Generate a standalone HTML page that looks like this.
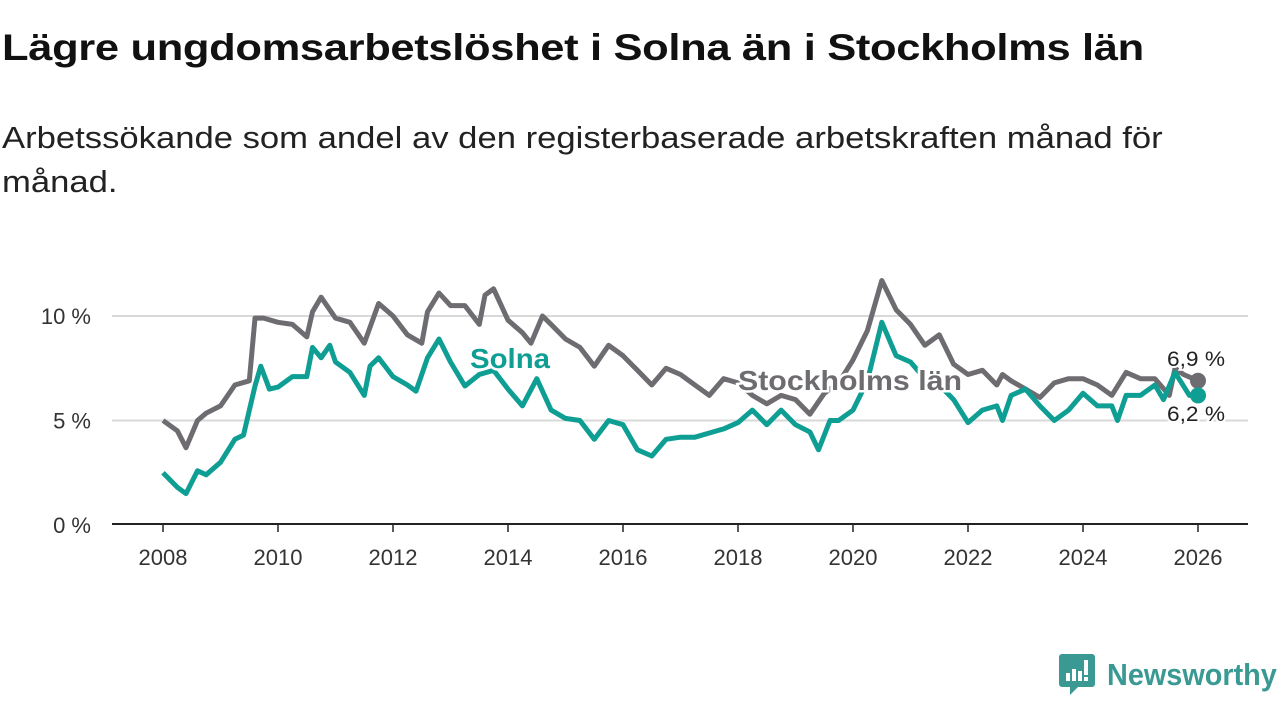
<!DOCTYPE html>
<html><head><meta charset="utf-8">
<style>
body{margin:0;width:1280px;height:720px;background:#fff;overflow:hidden;font-family:"Liberation Sans",sans-serif;}
#title{position:absolute;left:2px;top:27px;font-size:37px;font-weight:bold;color:#111;margin:0;letter-spacing:-0.3px;white-space:nowrap;transform:scaleX(1.176);transform-origin:0 0}
#sub{position:absolute;left:2px;top:116px;font-size:31px;color:#222;line-height:44px;white-space:nowrap;transform:scaleX(1.117);transform-origin:0 0}
svg{position:absolute;left:0;top:0}
</style></head><body>
<h1 id="title">Lägre ungdomsarbetslöshet i Solna än i Stockholms län</h1>
<div id="sub">Arbetssökande som andel av den registerbaserade arbetskraften månad för<br>månad.</div>
<svg id="chart" width="1280" height="720"></svg>
<script>
const yTicks=[0,5,10];
const yTickLabels=["0 %","5 %","10 %"];
const xTicks=[2008,2010,2012,2014,2016,2018,2020,2022,2024,2026];
const stoDates=[2008,2008.25,2008.4,2008.6,2008.75,2009,2009.25,2009.5,2009.6,2009.75,2010,2010.25,2010.5,2010.6,2010.75,2011,2011.25,2011.5,2011.75,2012,2012.25,2012.5,2012.6,2012.8,2013,2013.25,2013.5,2013.6,2013.75,2014,2014.25,2014.4,2014.6,2014.75,2015,2015.25,2015.5,2015.75,2016,2016.25,2016.5,2016.75,2017,2017.25,2017.5,2017.75,2018,2018.25,2018.5,2018.75,2019,2019.25,2019.5,2019.75,2020,2020.25,2020.5,2020.75,2021,2021.25,2021.5,2021.75,2022,2022.25,2022.5,2022.6,2022.75,2023,2023.25,2023.5,2023.75,2024,2024.25,2024.5,2024.75,2025,2025.25,2025.5,2025.6,2025.75,2026];
const stoValues=[5.0,4.5,3.7,5.0,5.35,5.7,6.7,6.9,9.9,9.9,9.7,9.6,9.0,10.2,10.9,9.9,9.7,8.7,10.6,10.0,9.1,8.7,10.2,11.1,10.5,10.5,9.6,11.0,11.3,9.8,9.2,8.7,10.0,9.6,8.9,8.5,7.6,8.6,8.1,7.4,6.7,7.5,7.2,6.7,6.2,7.0,6.8,6.2,5.8,6.2,6.0,5.3,6.3,6.8,7.9,9.3,11.7,10.3,9.6,8.6,9.1,7.7,7.2,7.4,6.7,7.2,6.9,6.5,6.1,6.8,7.0,7.0,6.7,6.2,7.3,7.0,7.0,6.2,7.5,7.2,6.9];
const solDates=[2008,2008.25,2008.4,2008.6,2008.75,2009,2009.25,2009.4,2009.6,2009.7,2009.85,2010,2010.25,2010.5,2010.6,2010.75,2010.9,2011,2011.25,2011.5,2011.6,2011.75,2012,2012.25,2012.4,2012.6,2012.8,2013,2013.25,2013.5,2013.75,2014,2014.25,2014.5,2014.75,2015,2015.25,2015.5,2015.75,2016,2016.25,2016.5,2016.75,2017,2017.25,2017.5,2017.75,2018,2018.25,2018.5,2018.75,2019,2019.25,2019.4,2019.6,2019.75,2020,2020.25,2020.5,2020.75,2021,2021.25,2021.5,2021.75,2022,2022.25,2022.5,2022.6,2022.75,2023,2023.25,2023.5,2023.75,2024,2024.25,2024.5,2024.6,2024.75,2025,2025.25,2025.4,2025.6,2025.85,2026];
const solValues=[2.5,1.8,1.5,2.6,2.4,3.0,4.1,4.3,6.65,7.6,6.5,6.6,7.1,7.1,8.5,8.0,8.6,7.8,7.3,6.2,7.6,8.0,7.1,6.7,6.4,8.0,8.9,7.8,6.65,7.2,7.4,6.5,5.7,7.0,5.5,5.1,5.0,4.1,5.0,4.8,3.6,3.3,4.1,4.2,4.2,4.4,4.6,4.9,5.5,4.8,5.5,4.8,4.45,3.6,5.0,5.0,5.5,6.9,9.7,8.1,7.8,7.0,6.7,6.0,4.9,5.5,5.7,5.0,6.2,6.5,5.7,5.0,5.5,6.3,5.7,5.7,5.0,6.2,6.2,6.7,6.0,7.3,6.2,6.2];
const NS="http://www.w3.org/2000/svg";
const svg=document.getElementById('chart');
const X=v=>163+(v-2008)*(1198-163)/18;
const Y=v=>525-v*20.9;
function mk(t,a,p){const e=document.createElementNS(NS,t);for(const k in a)e.setAttribute(k,a[k]);(p||svg).appendChild(e);return e;}
yTicks.forEach((t,i)=>{
  if(t>0){const g=mk('line',{x1:112,x2:1248,y1:Y(t),y2:Y(t),stroke:'#d9d9d9','stroke-width':2});
  
  }
  const l=mk('text',{x:91,y:Y(t)+8,'text-anchor':'end','font-size':22,fill:'#333'});l.textContent=yTickLabels[i];
  
  
});
const ax=mk('line',{x1:112,x2:1248,y1:524,y2:524,stroke:'#222','stroke-width':2});


xTicks.forEach(t=>{
  mk('line',{x1:X(t),x2:X(t),y1:524,y2:532,stroke:'#222','stroke-width':1.5});
  const l=mk('text',{x:X(t),y:565,'text-anchor':'middle','font-size':22,fill:'#333'});l.textContent=t;
  
  
});
function line(d,v,c,name){
  const p=mk('path',{d:d.map((x,i)=>(i?'L':'M')+X(x).toFixed(1)+','+Y(v[i]).toFixed(1)).join(''),fill:'none',stroke:c,'stroke-width':5,'stroke-linejoin':'round'});
  
  
}
line(stoDates,stoValues,'#6e6c70','stockholm-line');
line(solDates,solValues,'#0f9e93','solna-line');
function lab(x,y,t,c,w,name){
  const e=mk('text',{x:x,y:y,'font-size':28,'font-weight':'bold',fill:c,stroke:'#fff','stroke-width':5,'paint-order':'stroke',textLength:w,lengthAdjust:'spacingAndGlyphs'});e.textContent=t;
  
  
}
lab(470,368,'Solna','#0f9e93',80,'solna-label');
lab(738,390,'Stockholms län','#6e6c70',224,'stockholm-label');
const d1=mk('circle',{cx:X(2026),cy:Y(stoValues[stoValues.length-1]),r:8,fill:'#6e6c70'});


const d2=mk('circle',{cx:X(2026),cy:Y(solValues[solValues.length-1]),r:8,fill:'#0f9e93'});


function vl(y,t,name){const e=mk('text',{x:1167,y:y,'font-size':21,fill:'#222',stroke:'#fff','stroke-width':4,'paint-order':'stroke',textLength:58,lengthAdjust:'spacingAndGlyphs'});e.textContent=t;
  
  }
vl(366,'6,9 %','stockholm-end-value');
vl(421,'6,2 %','solna-end-value');
</script>
<div style="position:absolute;left:1059px;top:655px;height:40px;display:flex;align-items:center;">
<svg width="36" height="42" style="position:static" viewBox="0 0 36 42"><path d="M3 0h30a3 3 0 0 1 3 3v27a3 3 0 0 1-3 3H19l-8 8v-8H3a3 3 0 0 1-3-3V3a3 3 0 0 1 3-3z" fill="#3a9a93"/><rect x="7" y="19" width="4" height="8" fill="#fff"/><rect x="13" y="15" width="4" height="12" fill="#fff"/><rect x="19" y="17" width="4" height="10" fill="#fff"/><rect x="25" y="6" width="4" height="15" fill="#fff"/><rect x="25" y="23" width="4" height="4" fill="#fff"/></svg>
<span style="font-size:31px;color:#3a9a93;margin-left:12px;font-weight:bold;display:inline-block;transform:scaleX(0.93);transform-origin:0 50%">Newsworthy</span></div>
</body></html>
